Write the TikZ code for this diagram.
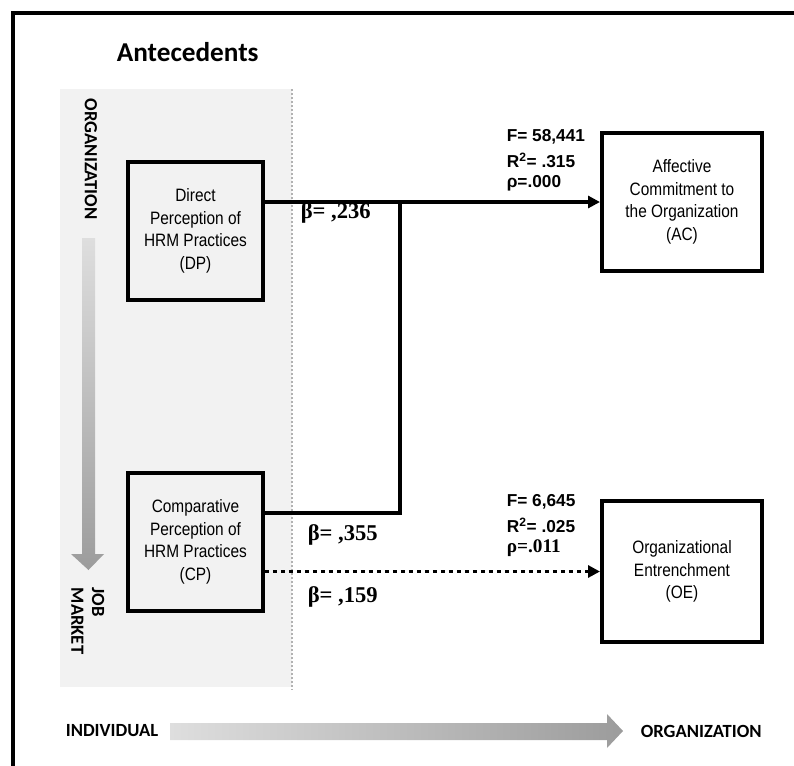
\documentclass[tikz,border=0pt]{standalone}
\usepackage{fontspec}
\setmainfont{Liberation Sans}
\newfontfamily\narrowfont[FakeStretch=0.86]{Liberation Sans}
\newfontfamily\calibrifont{Carlito}
\newfontfamily\timesfont{Liberation Serif}
\usetikzlibrary{arrows.meta}

\definecolor{panelgray}{HTML}{F2F2F2}
\definecolor{lightshade}{HTML}{DEDEDE}
\definecolor{darkshade}{HTML}{9C9C9C}

\def\layerx{400}

\begin{document}
\begin{tikzpicture}[x=0.75bp,y=-0.75bp,line width=2.7bp,>={Triangle[length=9bp,width=9bp]}]
    \tikzstyle{construct}=[draw,rectangle,line width=3bp,inner sep=0pt,align=center,font=\fontsize{13.5}{17}\selectfont\narrowfont]
    \tikzstyle{antecedent}=[construct,minimum width=101bp,minimum height=104bp]
    \tikzstyle{outcome}=[construct,minimum width=120bp,minimum height=104bp]
    \tikzstyle{stat}=[anchor=west,inner sep=0pt,font=\fontsize{13}{15}\selectfont\bfseries]
    \tikzstyle{serifstat}=[anchor=west,inner sep=0pt,font=\fontsize{14.5}{15}\selectfont\timesfont\bfseries]
    \tikzstyle{beta}=[anchor=west,inner sep=0pt,font=\fontsize{17}{18}\selectfont\timesfont\bfseries]
    \tikzstyle{axis}=[inner sep=0pt,font=\fontsize{14}{15.5}\selectfont\calibrifont\bfseries]

    \useasboundingbox (0,0) rectangle (794,766);

    % Draw the frame and the antecedents panel
    \draw[line width=3bp] (13,766) -- (13,13) -- (794,13);
    \fill[panelgray] (60,89) rectangle (292,687);
    \draw[gray!60,line width=1.5bp,dash pattern=on 1.5bp off 1.5bp] (292,89) -- (292,690);
    \node[anchor=west,inner sep=0pt,font=\fontsize{20.5}{22}\selectfont\calibrifont\bfseries] (title) at (115,52) {Antecedents};

    % Draw the shaded axes
    \shade[top color=lightshade,bottom color=darkshade] (82,238) -- (95,238) -- (95,554) -- (104,554)
        -- (88.5,570) -- (71,554) -- (82,554) -- cycle;
    \shade[left color=lightshade,right color=darkshade] (170,723) -- (607,723) -- (607,714) -- (623,731)
        -- (607,748) -- (607,740) -- (170,740) -- cycle;
    \node[axis,rotate=-90,anchor=west] (org-v) at (91,97) {ORGANIZATION};
    \node[axis,rotate=-90,anchor=north west,align=left] (job) at (106,586) {JOB\\MARKET};
    \node[axis,anchor=west] (indiv) at (64,731) {INDIVIDUAL};
    \node[axis,anchor=west] (org-h) at (639,731) {ORGANIZATION};

    % Draw the antecedent and outcome nodes
    \node[antecedent] (DP) at (195.5,231) {Direct\\Perception of\\HRM Practices\\(DP)};
    \node[antecedent] (CP) at (195.5,542) {Comparative\\Perception of\\HRM Practices\\(CP)};
    \node[outcome] (AC) at (682,202) {Affective\\Commitment to\\the Organization\\(AC)};
    \node[outcome,minimum height=106bp] (OE) at (682,571.5) {Organizational\\Entrenchment\\(OE)};

    % Connect the antecedents with the outcomes
    \coordinate (join) at (\layerx,513);
    \draw[->] (DP.east |- AC.west) -- (AC.west);
    \draw (CP.east |- join) -- (join) -- (join |- AC.west);
    \draw[->,line width=2.7bp,dash pattern=on 3bp off 3bp] (CP.east |- OE.west) -- (OE.west);

    % Annotate the paths
    \node[beta] (b-dp) at (299,213) {β= ,236};
    \node[beta] (b-cp) at (306,535) {β= ,355};
    \node[beta] (b-oe) at (306,597) {β= ,159};
    \node[stat] (ac-f) at (505,137) {F= 58,441};
    \node[stat] (ac-r) at (505,160) {R\textsuperscript{2}= .315};
    \node[stat] (ac-p) at (505,183) {ρ=.000};
    \node[stat] (oe-f) at (505,502) {F= 6,645};
    \node[stat] (oe-r) at (505,525) {R\textsuperscript{2}= .025};
    \node[serifstat] (oe-p) at (505,548) {ρ=.011};
\end{tikzpicture}
\end{document}
